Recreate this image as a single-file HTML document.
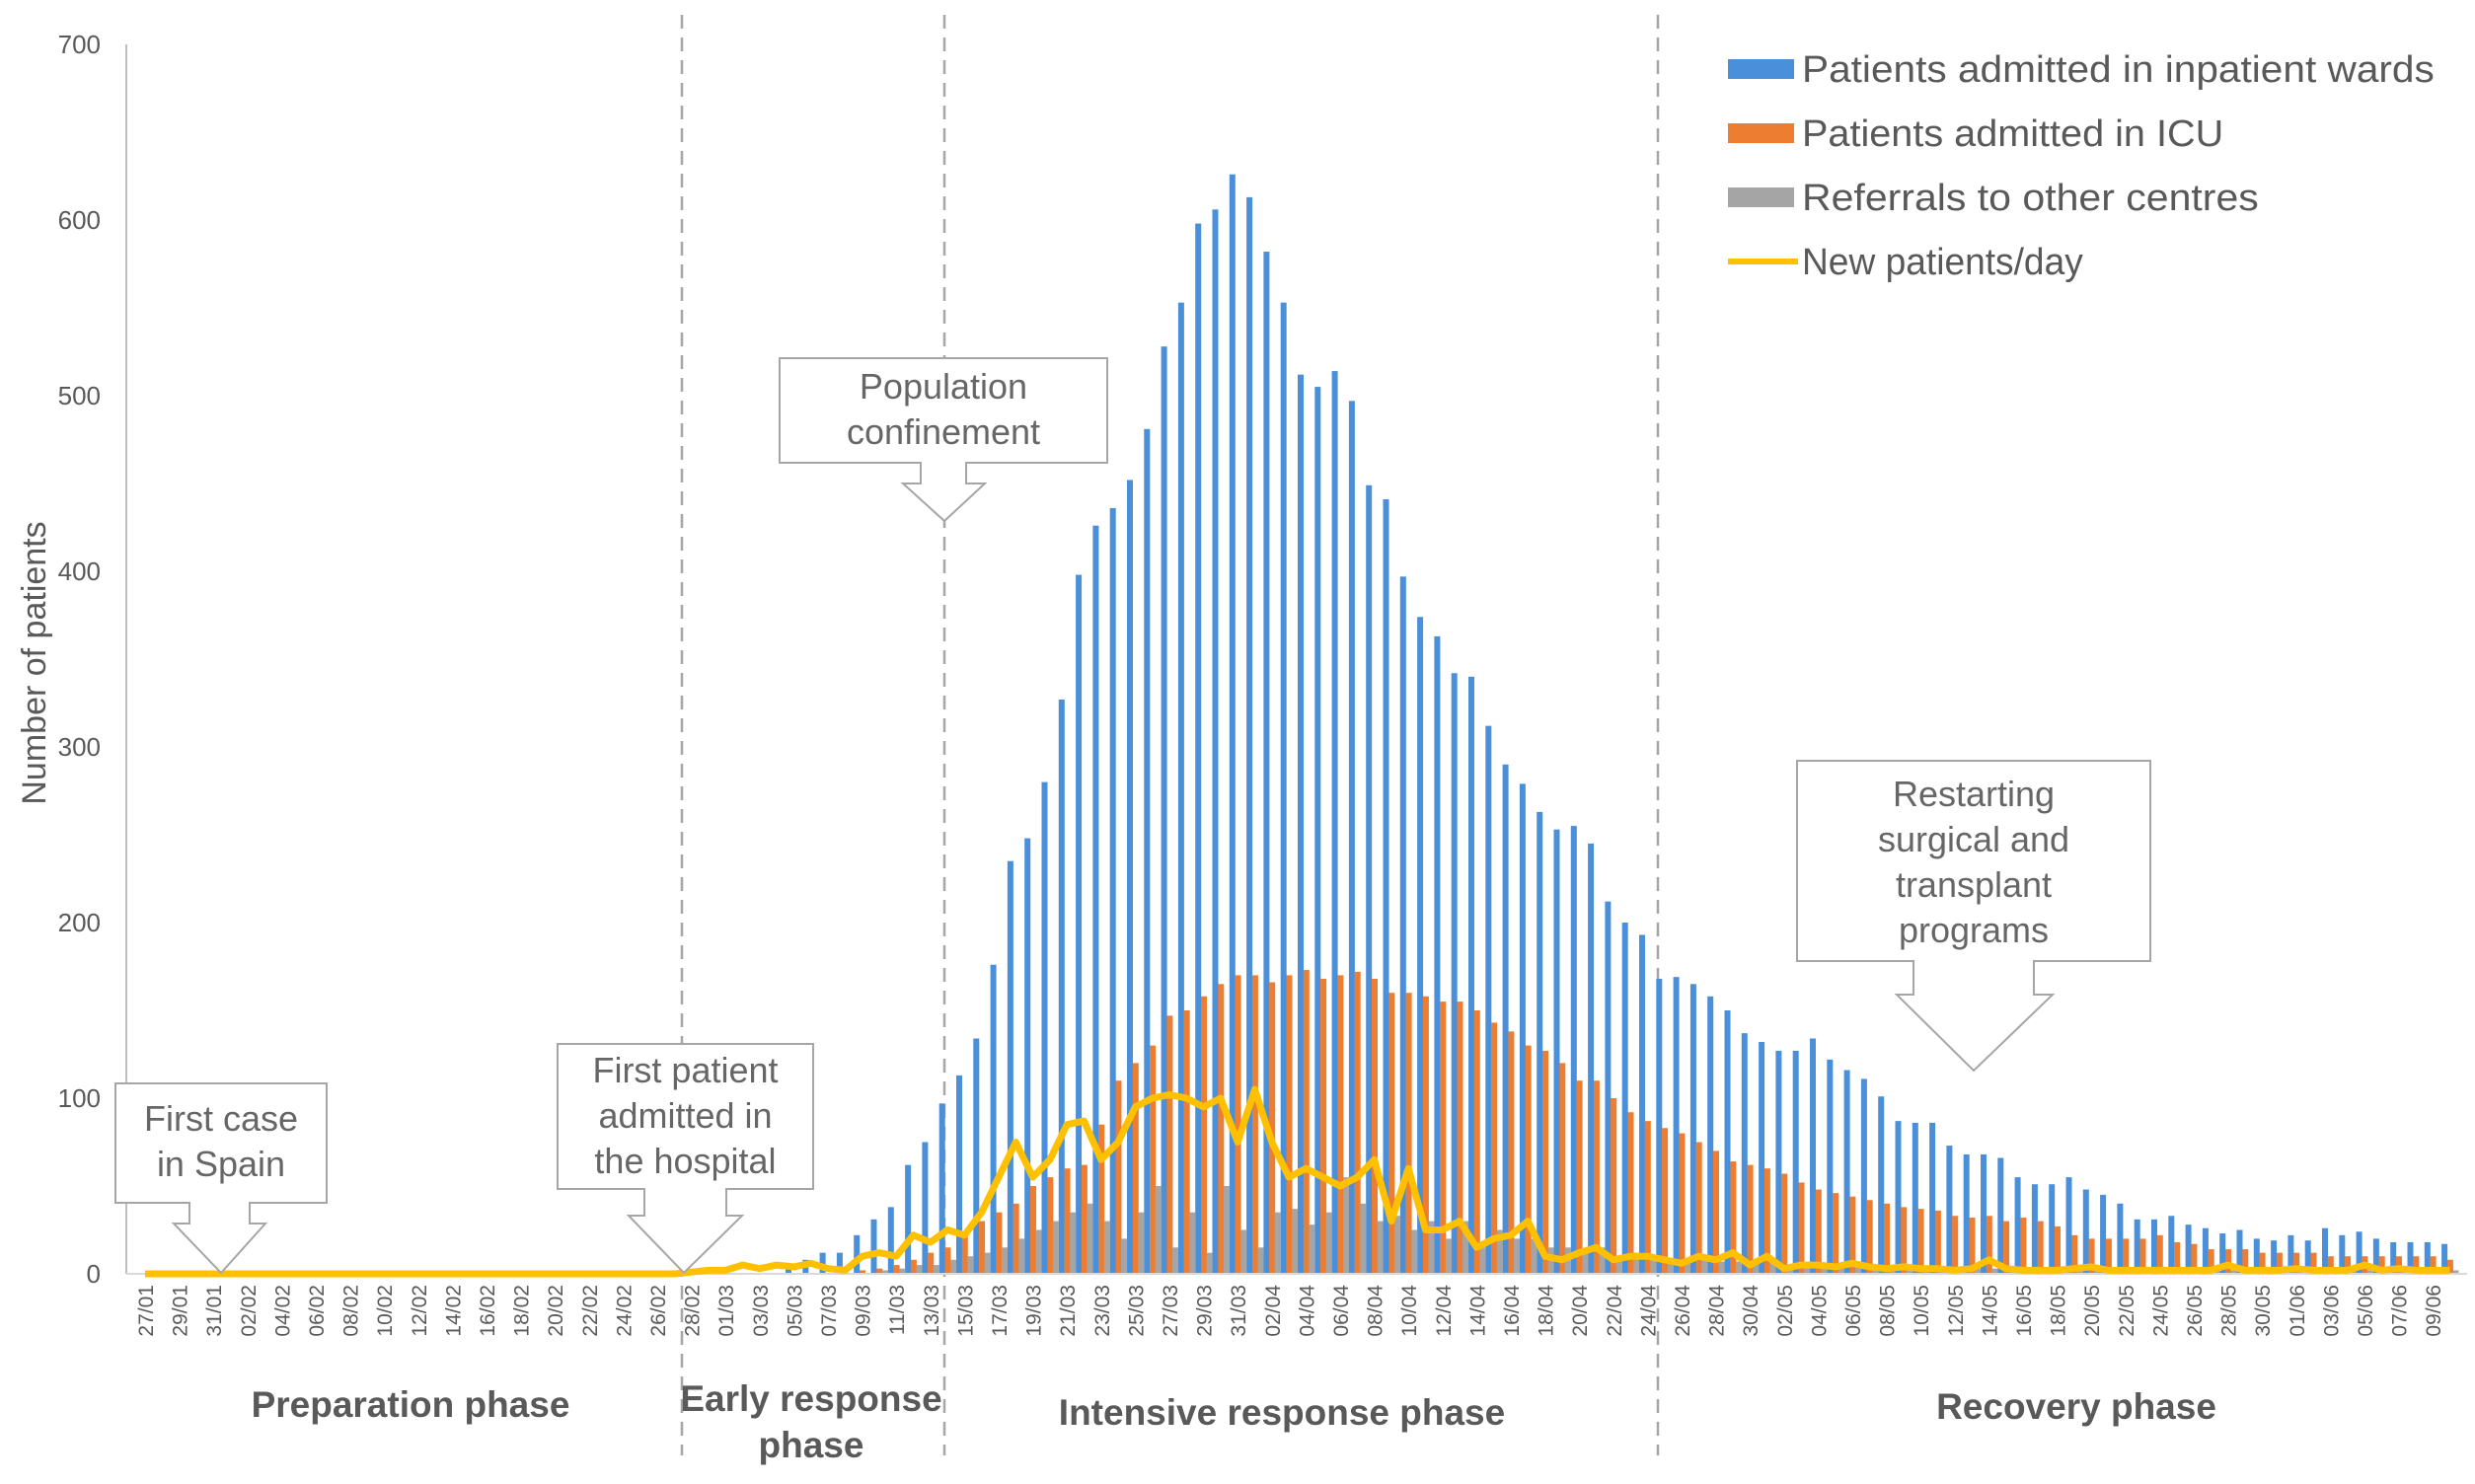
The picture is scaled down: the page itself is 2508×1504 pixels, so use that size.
<!DOCTYPE html>
<html><head><meta charset="utf-8"><style>
html,body{margin:0;padding:0;background:#fff;}
svg{display:block;font-family:"Liberation Sans",Arial,sans-serif;}
</style></head><body>
<svg id="chart" width="2508" height="1504" viewBox="0 0 2508 1504" xmlns="http://www.w3.org/2000/svg"></svg>
<script>
// ---- data ----
const startOffset = 38; // day index where bar series begin (05/03)
const wardValues = [5,8,12,12,22,31,38,62,75,97,113,134,176,235,248,280,327,398,426,436,452,481,528,553,598,606,626,613,582,553,512,505,514,497,449,441,397,374,363,342,340,312,290,279,263,253,255,245,212,200,193,168,169,165,158,150,137,132,127,127,134,122,116,111,101,87,86,86,73,68,68,66,55,51,51,55,48,45,40,31,31,33,28,26,23,25,20,19,22,19,26,22,24,20,18,18,18,17];
const icuValues = [0,0,0,1,2,3,5,8,12,15,22,30,35,40,50,55,60,62,85,110,120,130,147,150,158,165,170,170,166,170,173,168,170,172,168,160,160,158,155,155,150,143,138,130,127,120,110,110,100,92,87,83,80,75,70,64,62,60,57,52,48,46,44,42,40,38,37,36,33,32,33,30,32,30,27,22,20,20,20,20,22,18,17,14,14,14,12,12,12,12,10,10,10,10,10,10,10,8];
const referralValues = [0,0,0,0,0,2,3,5,5,8,10,12,15,20,25,30,35,40,30,20,35,50,15,35,12,50,25,15,35,37,28,35,55,40,30,33,25,30,20,30,15,25,20,20,15,15,12,15,10,12,10,8,8,8,7,7,6,6,5,5,5,5,4,4,4,4,4,3,3,3,3,3,3,3,2,2,2,2,2,2,2,2,2,2,2,2,2,2,2,2,2,2,2,2,2,2,2,2];
const newPatients = [0,0,0,0,0,0,0,0,0,0,0,0,0,0,0,0,0,0,0,0,0,0,0,0,0,0,0,0,0,0,0,0,1,2,2,5,3,5,4,6,3,2,10,12,10,22,18,25,22,35,55,75,55,65,85,87,65,75,95,100,102,100,95,100,75,105,75,55,60,55,50,55,65,30,60,25,25,30,15,20,22,30,10,8,12,15,8,10,10,8,6,10,8,12,5,10,3,5,5,4,6,4,3,4,3,3,2,3,8,3,2,2,2,3,4,2,2,2,2,2,2,2,5,2,2,2,3,2,2,2,5,2,3,2,2,2];
const yTicks = [0,100,200,300,400,500,600,700];
const nDays = 136;
const categories = [];
for (let i = 0; i < nDays; i++) {
  const d = new Date(Date.UTC(2020, 0, 27 + i));
  categories.push(String(d.getUTCDate()).padStart(2,'0') + '/' + String(d.getUTCMonth()+1).padStart(2,'0'));
}
// ---- layout ----
const svg = document.getElementById('chart');
const NS = 'http://www.w3.org/2000/svg';
const X0 = 147, STEP = 17.3, Y0 = 1291, YPX = 1.78;
const xPos = i => X0 + i * STEP;
const yPos = v => Y0 - v * YPX;
function mk(tag, attrs, parent) {
  const e = document.createElementNS(NS, tag);
  for (const k in attrs) e.setAttribute(k, attrs[k]);
  (parent || svg).appendChild(e);
  return e;
}
// dashed phase lines
const dashG = mk('g', {});


[691, 957, 1680].forEach(x => {
  const l = mk('line', {x1:x, y1:15, x2:x, y2:1475, stroke:'#a6a6a6', 'stroke-width':2.5, 'stroke-dasharray':'14,9'}, dashG);
  
  
});
// y axis
const yAxis = mk('g', {});


mk('line', {x1:128, y1:yPos(700), x2:128, y2:Y0, stroke:'#bfbfbf', 'stroke-width':2}, yAxis);
yTicks.forEach(t => {
  const tx = mk('text', {x:102, y:yPos(t)+9, 'text-anchor':'end', 'font-size':26, fill:'#595959'}, yAxis);
  tx.textContent = t;
  
  
});
const yTitle = mk('text', {x:0, y:0, 'text-anchor':'middle', 'font-size':34, fill:'#595959', transform:`translate(46,672) rotate(-90)`});
yTitle.textContent = 'Number of patients';


// bars
const barG = mk('g', {});


const series = [[wardValues,'#4a8fd9',-5.4],[icuValues,'#ed7d31',0.4],[referralValues,'#a5a5a5',6.0]];
series.forEach(([vals,col,off]) => {
  vals.forEach((v,k) => {
    const i = startOffset + k;
    if (i >= nDays || v <= 0) return;
    const r = mk('rect', {x:xPos(i)+off-3, y:yPos(v), width:6, height:v*YPX, fill:col}, barG);
    
    
  });
});
// x axis line
mk('line', {x1:128, y1:Y0, x2:2500, y2:Y0, stroke:'#d9d9d9', 'stroke-width':2});
// new patients line
const pts = newPatients.slice(0, nDays).map((v,i) => `${xPos(i).toFixed(1)},${yPos(v).toFixed(1)}`).join(' ');
const line = mk('polyline', {points:pts, fill:'none', stroke:'#ffc000', 'stroke-width':7, 'stroke-linejoin':'round'});


// x labels
const xG = mk('g', {});


categories.forEach((c,i) => {
  if (i % 2) return;
  const t = mk('text', {x:0, y:0, 'text-anchor':'end', 'font-size':21, fill:'#595959', transform:`translate(${xPos(i)+8},1302) rotate(-90)`}, xG);
  t.textContent = c;
  
  
});
// phase labels
[['Preparation phase',416,1436],['Early response',822,1430],['phase',822,1477],['Intensive response phase',1299,1444],['Recovery phase',2104,1438]].forEach(([s,x,y]) => {
  const t = mk('text', {x:x, y:y, 'text-anchor':'middle', 'font-size':37, 'font-weight':'bold', fill:'#595959'});
  t.textContent = s;
  
  
});
// callouts
function callout(bx1,by1,bx2,by2,s1,s2,w1,w2,sy,tx,ty,lines,fy,name) {
  const g = mk('g', {});
  
  
  const d = `M${bx1},${by1} H${bx2} V${by2} H${s2} V${sy} H${w2} L${tx},${ty} L${w1},${sy} H${s1} V${by2} H${bx1} Z`;
  mk('path', {d:d, fill:'#fff', stroke:'#a6a6a6', 'stroke-width':2}, g);
  lines.forEach((s,k) => {
    const t = mk('text', {x:(bx1+bx2)/2, y:fy + k*46, 'text-anchor':'middle', 'font-size':36, fill:'#666666'}, g);
    t.textContent = s;
  });
}
callout(117,1098,331,1219,192,253,176,269,1240,224,1290,['First case','in Spain'],1146,'callout-first-case');
callout(565,1058,824,1205,653,736,637,752,1232,693,1290,['First patient','admitted in','the hospital'],1097,'callout-first-patient');
callout(790,363,1122,469,933,979,915,998,490,957,528,['Population','confinement'],404,'callout-confinement');
callout(1821,771,2179,974,1939,2061,1922,2080,1008,2000,1085,['Restarting','surgical and','transplant','programs'],817,'callout-restarting');
// legend
const legend = mk('g', {});


[['Patients admitted in inpatient wards','#4a8fd9','rect'],['Patients admitted in ICU','#ed7d31','rect'],['Referrals to other centres','#a5a5a5','rect'],['New patients/day','#ffc000','line']].forEach(([s,c,k],j) => {
  const y = 70 + j*65;
  const e = mk('g', {}, legend);
  
  
  if (k === 'rect') mk('rect', {x:1751, y:y-10, width:67, height:20, fill:c}, e);
  else mk('line', {x1:1751, y1:y, x2:1822, y2:y, stroke:c, 'stroke-width':6}, e);
  const t = mk('text', {x:1826, y:y+13, 'font-size':38, fill:'#595959', textLength:s.length*17.8, lengthAdjust:'spacingAndGlyphs'}, e);
  t.textContent = s;
});
</script>
</body></html>
